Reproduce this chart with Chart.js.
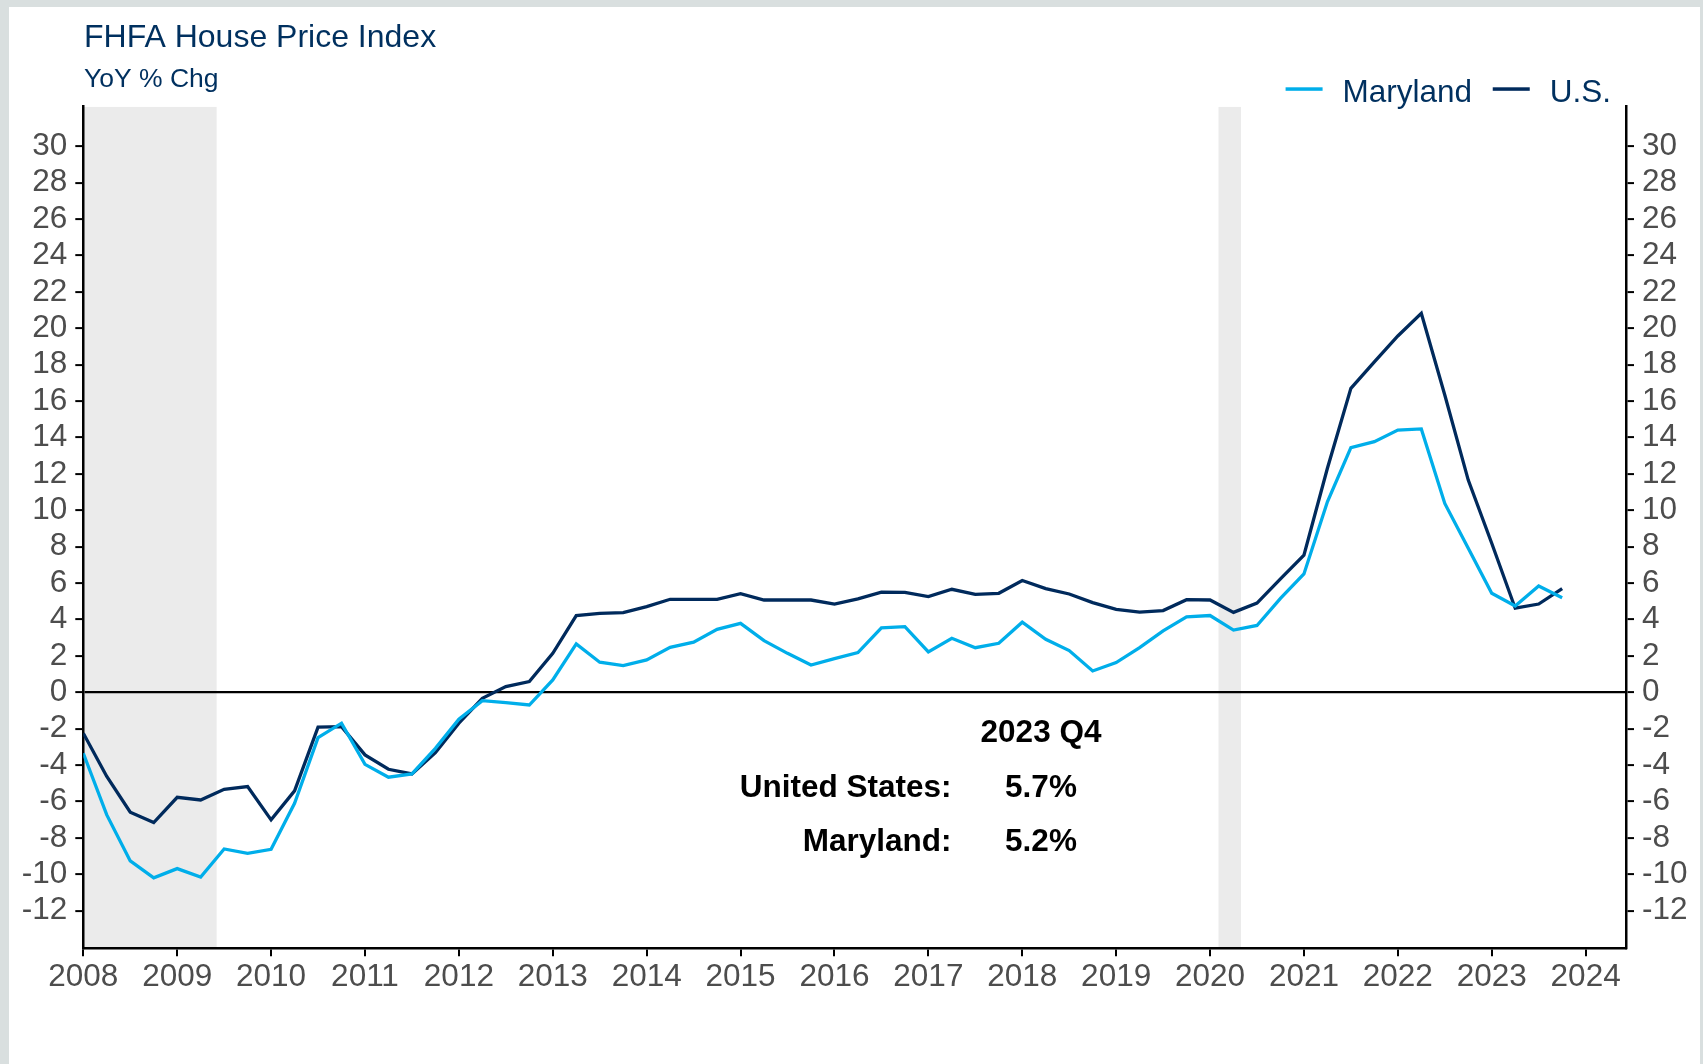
<!DOCTYPE html>
<html lang="en">
<head>
    <meta charset="UTF-8">
    <title>FHFA House Price Index</title>
    <script src="https://cdn.jsdelivr.net/npm/chart.js"></script>
    <style>
        body {
            margin: 0;
            padding: 0;
            background-color: #d9dfdf; /* grey frame */
            overflow: hidden;
        }

        .panel {
            position: absolute;
            left: 9px;
            top: 7px;
            right: 3px;
            bottom: 0;
            background-color: #ffffff;
        }

        .chart-container {
            position: absolute;
            left: 0;
            top: 0;
            width: 1703px;
            height: 1064px;
        }
    </style>
</head>
<body>

    <div class="panel"></div>
    <div class="chart-container">
        <canvas id="hpiChart"></canvas>
    </div>

    <script>
        // Quarterly YoY % change, 2008 Q1 - 2023 Q4
        const quarters = [
            '2008 Q1', '2008 Q2', '2008 Q3', '2008 Q4', '2009 Q1', '2009 Q2', '2009 Q3', '2009 Q4',
            '2010 Q1', '2010 Q2', '2010 Q3', '2010 Q4', '2011 Q1', '2011 Q2', '2011 Q3', '2011 Q4',
            '2012 Q1', '2012 Q2', '2012 Q3', '2012 Q4', '2013 Q1', '2013 Q2', '2013 Q3', '2013 Q4',
            '2014 Q1', '2014 Q2', '2014 Q3', '2014 Q4', '2015 Q1', '2015 Q2', '2015 Q3', '2015 Q4',
            '2016 Q1', '2016 Q2', '2016 Q3', '2016 Q4', '2017 Q1', '2017 Q2', '2017 Q3', '2017 Q4',
            '2018 Q1', '2018 Q2', '2018 Q3', '2018 Q4', '2019 Q1', '2019 Q2', '2019 Q3', '2019 Q4',
            '2020 Q1', '2020 Q2', '2020 Q3', '2020 Q4', '2021 Q1', '2021 Q2', '2021 Q3', '2021 Q4',
            '2022 Q1', '2022 Q2', '2022 Q3', '2022 Q4', '2023 Q1', '2023 Q2', '2023 Q3', '2023 Q4'
        ];

        const marylandValues = [
            -3.35, -6.74, -9.27, -10.2, -9.69, -10.15, -8.61, -8.85,
            -8.63, -6.10, -2.49, -1.70, -3.96, -4.67, -4.49, -3.08,
            -1.48, -0.46, -0.57, -0.70, 0.68, 2.66, 1.65, 1.47,
            1.78, 2.47, 2.75, 3.46, 3.79, 2.84, 2.14, 1.50,
            1.85, 2.18, 3.54, 3.61, 2.22, 2.97, 2.45, 2.69,
            3.85, 2.91, 2.29, 1.17, 1.63, 2.45, 3.37, 4.14,
            4.22, 3.42, 3.67, 5.16, 6.50, 10.47, 13.44, 13.77,
            14.41, 14.47, 10.38, 7.91, 5.44, 4.74, 5.84, 5.2
        ];

        const usValues = [
            -2.25, -4.63, -6.59, -7.16, -5.77, -5.92, -5.33, -5.18,
            -7.01, -5.42, -1.92, -1.89, -3.44, -4.23, -4.49, -3.32,
            -1.70, -0.33, 0.31, 0.59, 2.14, 4.21, 4.34, 4.38,
            4.71, 5.11, 5.11, 5.11, 5.42, 5.07, 5.07, 5.07,
            4.85, 5.13, 5.50, 5.49, 5.26, 5.66, 5.38, 5.44,
            6.14, 5.70, 5.40, 4.93, 4.56, 4.41, 4.49, 5.09,
            5.07, 4.39, 4.90, 6.23, 7.54, 12.31, 16.70, 18.16,
            19.58, 20.82, 16.34, 11.66, 8.19, 4.62, 4.85, 5.7
        ];

        const yearTicks = [2008, 2009, 2010, 2011, 2012, 2013, 2014, 2015, 2016,
            2017, 2018, 2019, 2020, 2021, 2022, 2023, 2024];
        const valueTicks = [-12, -10, -8, -6, -4, -2, 0, 2, 4, 6, 8, 10, 12, 14,
            16, 18, 20, 22, 24, 26, 28, 30];

        // Recession periods (shaded)
        const recessionStart = [2007.92, 2020.09];
        const recessionEnd = [2009.42, 2020.33];

        const FONT = '"Liberation Sans", Arial, Helvetica, sans-serif';
        const NAVY = '#00305f';
        const LIGHT_BLUE = '#00aeea';
        const DARK_BLUE = '#002a5c';
        const TICK_GREY = '#4d4d4d';

        Chart.defaults.font.family = FONT;

        // quarter label -> decimal year
        const toX = q => parseInt(q, 10) + (parseInt(q.slice(-1), 10) - 1) / 4;
        const toPoints = vals => vals.map((v, i) => ({ x: toX(quarters[i]), y: v }));

        const shadePlugin = {
            id: 'shade',
            beforeDraw(chart) {
                const { ctx, chartArea: a, scales: { x } } = chart;
                ctx.save();
                ctx.beginPath();
                ctx.rect(a.left, a.top, a.right - a.left, a.bottom - a.top);
                ctx.clip();
                ctx.fillStyle = '#ebebeb';
                recessionStart.forEach((s, i) => {
                    const x0 = x.getPixelForValue(s);
                    const x1 = x.getPixelForValue(recessionEnd[i]);
                    ctx.fillRect(x0, a.top, x1 - x0, a.bottom - a.top);
                });
                ctx.restore();
            }
        };

        const textPlugin = {
            id: 'texts',
            afterDraw(chart) {
                const ctx = chart.ctx;
                ctx.save();

                // title + subtitle
                ctx.fillStyle = NAVY;
                ctx.textAlign = 'left';
                ctx.textBaseline = 'alphabetic';
                ctx.font = '32px ' + FONT;
                ctx.fillText('FHFA House Price Index', 84, 46.7);
                ctx.font = '26.5px ' + FONT;
                ctx.fillText('YoY % Chg', 84, 87);

                // legend, right aligned, built from datasets
                ctx.font = '31.5px ' + FONT;
                let x = 1611;
                const sets = chart.data.datasets.slice().reverse();
                sets.forEach(ds => {
                    const w = ctx.measureText(ds.label).width;
                    const textX = x - w;
                    ctx.fillStyle = NAVY;
                    ctx.fillText(ds.label, textX, 101.7);
                    ctx.fillStyle = ds.borderColor;
                    ctx.fillRect(textX - 20 - 37, 87.3, 37, 3.5);
                    x = textX - 20 - 37 - 20.6;
                });

                // latest reading box
                const last = quarters.length - 1;
                ctx.fillStyle = '#000000';
                ctx.font = 'bold 31.5px ' + FONT;
                ctx.textAlign = 'center';
                ctx.fillText(quarters[last], 1041, 742);
                ctx.fillText(usValues[last].toFixed(1) + '%', 1041, 796.5);
                ctx.fillText(marylandValues[last].toFixed(1) + '%', 1041, 850.5);
                ctx.textAlign = 'right';
                ctx.fillText('United States:', 951.5, 796.5);
                ctx.fillText('Maryland:', 951.5, 850.5);

                ctx.restore();
            }
        };

        const yAxis = (position, width, onChart) => ({
            type: 'linear',
            position: position,
            min: -14.07,
            max: 32.18,
            afterBuildTicks: scale => { scale.ticks = valueTicks.map(v => ({ value: v })); },
            afterFit: scale => { scale.width = width; },
            ticks: {
                color: TICK_GREY,
                font: { size: 31.5 },
                padding: 8,
                autoSkip: false,
                callback: v => String(v)
            },
            grid: {
                drawOnChartArea: onChart,
                drawTicks: true,
                tickLength: 8,
                tickColor: '#000000',
                tickWidth: 2,
                lineWidth: 2.2,
                color: c => (c.tick && c.tick.value === 0) ? '#000000' : 'rgba(0,0,0,0)'
            },
            border: { display: true, color: '#000000', width: 2.5 }
        });

        new Chart(document.getElementById('hpiChart').getContext('2d'), {
            type: 'line',
            data: {
                datasets: [
                    {
                        label: 'Maryland',
                        data: toPoints(marylandValues),
                        borderColor: LIGHT_BLUE,
                        backgroundColor: LIGHT_BLUE,
                        borderWidth: 3.3,
                        pointRadius: 0,
                        tension: 0,
                        yAxisID: 'y'
                    },
                    {
                        label: 'U.S.',
                        data: toPoints(usValues),
                        borderColor: DARK_BLUE,
                        backgroundColor: DARK_BLUE,
                        borderWidth: 3.3,
                        pointRadius: 0,
                        tension: 0,
                        yAxisID: 'y'
                    }
                ]
            },
            options: {
                responsive: true,
                maintainAspectRatio: false,
                animation: false,
                layout: { padding: { top: 106.7, left: 0, right: 0, bottom: 0 } },
                plugins: {
                    legend: { display: false },
                    title: { display: false },
                    tooltip: { enabled: false }
                },
                scales: {
                    x: {
                        type: 'linear',
                        min: 2008,
                        max: 2024.43,
                        afterBuildTicks: scale => { scale.ticks = yearTicks.map(v => ({ value: v })); },
                        afterFit: scale => { scale.height = 115.7; },
                        ticks: {
                            color: TICK_GREY,
                            font: { size: 31.5 },
                            padding: 2,
                            maxRotation: 0,
                            autoSkip: false,
                            callback: v => String(v)
                        },
                        grid: {
                            drawOnChartArea: false,
                            drawTicks: true,
                            tickLength: 8,
                            color: '#000000',
                            lineWidth: 2
                        },
                        border: { display: true, color: '#000000', width: 2.5 }
                    },
                    y: yAxis('left', 83.3, true),
                    y2: yAxis('right', 77, false)
                }
            },
            plugins: [shadePlugin, textPlugin]
        });
    </script>

</body>
</html>
